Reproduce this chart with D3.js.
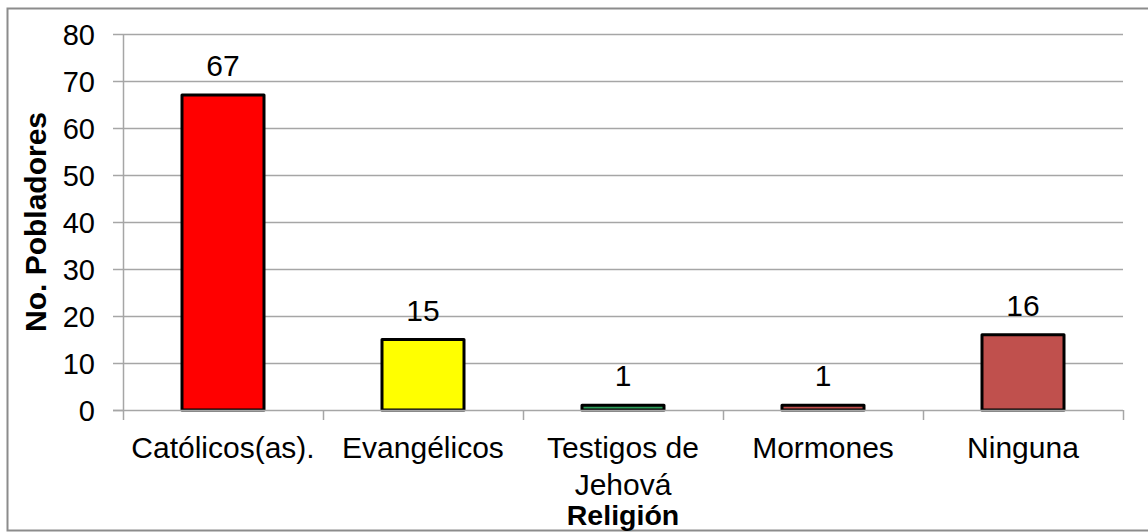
<!DOCTYPE html>
<html>
<head>
<meta charset="utf-8">
<script src="https://cdn.jsdelivr.net/npm/d3@7"></script>
<style>
  body { margin: 0; background: #fff; }
  svg { display: block; font-family: "Liberation Sans", Arial, sans-serif; }
</style>
</head>
<body>
<div id="chart"></div>
<script>
// data
var categories = ["Católicos(as).", "Evangélicos", "Testigos de|Jehová", "Mormones", "Ninguna"];
var values = [67, 15, 1, 1, 16];
var barColors = ["#ff0000", "#ffff00", "#2e9e5b", "#c0504d", "#c0504d"];
var yTicks = [0, 10, 20, 30, 40, 50, 60, 70, 80];

var W = 1148, H = 532;
var margin = { top: 34, right: 25, bottom: 122, left: 123 };
var width = W - margin.left - margin.right;
var height = H - margin.top - margin.bottom;

var svg = d3.select("#chart").append("svg")
    .attr("width", W)
    .attr("height", H);

// outer frame
svg.append("rect")
    .attr("x", 7.5).attr("y", 8.5)
    .attr("width", W).attr("height", 522)
    .attr("fill", "none")
    .attr("stroke", "#8c8c8c")
    .attr("stroke-width", 2);

var g = svg.append("g").attr("transform", "translate(" + margin.left + "," + margin.top + ")");

var x = d3.scaleBand().domain(categories).range([0, width]).paddingInner(0.59).paddingOuter(0.295);
var xb = d3.scaleBand().domain(categories).range([0, width]);
var y = d3.scaleLinear().domain([0, 80]).range([height, 0]);

// gridlines
g.selectAll(".grid").data(yTicks.slice(1)).enter().append("line")
    .attr("x1", 0).attr("x2", width)
    .attr("y1", function(d) { return Math.round(y(d)) + 0.5; })
    .attr("y2", function(d) { return Math.round(y(d)) + 0.5; })
    .attr("stroke", "#a6a6a6").attr("stroke-width", 1.5);

// y axis
var yAxis = g.append("g").call(d3.axisLeft(y).tickValues(yTicks).tickSize(10).tickPadding(18));
yAxis.select(".domain").attr("stroke", "#a6a6a6").attr("stroke-width", 1.5).attr("d", "M0.5," + height + "V0");
yAxis.selectAll(".tick line").attr("stroke", "#a6a6a6").attr("stroke-width", 1.5);
yAxis.selectAll(".tick text").attr("font-size", 29).attr("fill", "#000")
    .attr("font-family", "Liberation Sans, Arial, sans-serif").attr("dy", "0.35em");

// bars
g.selectAll(".bar").data(values).enter().append("rect")
    .attr("x", function(d, i) { return x(categories[i]); })
    .attr("y", function(d) { return y(d); })
    .attr("width", x.bandwidth())
    .attr("height", function(d) { return height - y(d); })
    .attr("fill", function(d, i) { return barColors[i]; })
    .attr("stroke", "#000")
    .attr("stroke-width", 3)
    .attr("stroke-linejoin", "round");

// x axis
g.append("line")
    .attr("x1", -10).attr("x2", width)
    .attr("y1", height + 0.5).attr("y2", height + 0.5)
    .attr("stroke", "#a6a6a6").attr("stroke-width", 1.5);
g.selectAll(".xtick").data(d3.range(categories.length + 1)).enter().append("line")
    .attr("x1", function(i) { return i * xb.bandwidth() + 0.5; })
    .attr("x2", function(i) { return i * xb.bandwidth() + 0.5; })
    .attr("y1", height).attr("y2", height + 10)
    .attr("stroke", "#a6a6a6").attr("stroke-width", 1.5);

// value labels
g.selectAll(".val").data(values).enter().append("text")
    .attr("x", function(d, i) { return xb(categories[i]) + xb.bandwidth() / 2; })
    .attr("y", function(d) { return y(d) - 19; })
    .attr("text-anchor", "middle")
    .attr("font-size", 30)
    .text(function(d) { return d; });

// category labels
categories.forEach(function(c, i) {
  var t = g.append("text")
      .attr("x", xb(c) + xb.bandwidth() / 2)
      .attr("y", height + 48)
      .attr("text-anchor", "middle")
      .attr("font-size", 30);
  c.split("|").forEach(function(line, k) {
    t.append("tspan").attr("x", xb(c) + xb.bandwidth() / 2).attr("dy", k === 0 ? 0 : 37).text(line);
  });
});

// axis titles
svg.append("text")
    .attr("x", margin.left + width / 2).attr("y", 525)
    .attr("text-anchor", "middle")
    .attr("font-size", 28.5).attr("font-weight", "bold")
    .text("Religión");

svg.append("text")
    .attr("transform", "translate(46,222) rotate(-90)")
    .attr("text-anchor", "middle")
    .attr("font-size", 30).attr("font-weight", "bold")
    .text("No. Pobladores");
</script>
</body>
</html>
